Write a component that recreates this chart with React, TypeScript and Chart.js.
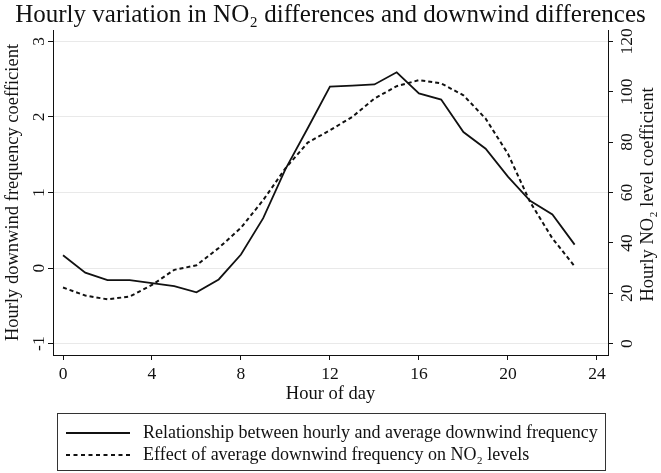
import React, { useEffect, useRef } from "react";
import { Chart, registerables } from "chart.js";

Chart.register(...registerables);

const HOURS = [0, 1, 2, 3, 4, 5, 6, 7, 8, 9, 10, 11, 12, 13, 14, 15, 16, 17, 18, 19, 20, 21, 22, 23];
const DOWNWIND_COEF = [0.17, -0.06, -0.16, -0.16, -0.2, -0.24, -0.32, -0.15, 0.18, 0.66, 1.31, 1.85, 2.4, 2.415, 2.43, 2.59, 2.31, 2.23, 1.8, 1.58, 1.21, 0.89, 0.71, 0.31];
const NO2_COEF = [22.3, 19.1, 17.6, 18.7, 23.3, 29.3, 31.1, 38.0, 46.0, 57.0, 69.6, 79.8, 84.7, 90.0, 97.3, 102.2, 104.6, 103.3, 98.6, 89.3, 75.4, 56.2, 41.8, 30.7];
const X_TICKS = [0, 4, 8, 12, 16, 20, 24];
const LEFT_TICKS = [-1, 0, 1, 2, 3];
const RIGHT_TICKS = [0, 20, 40, 60, 80, 100, 120];

const TITLE = "Hourly variation in NO₂ differences and downwind differences";
const X_TITLE = "Hour of day";
const LEFT_TITLE = "Hourly downwind frequency coefficient";
const RIGHT_TITLE = "Hourly NO₂ level coefficient";
const SERIES_LABELS = [
  "Relationship between hourly and average downwind frequency",
  "Effect of average downwind frequency on NO₂ levels",
];

const FONT = '"Liberation Serif", "Times New Roman", serif';
const INK = "#111";

export default function App() {
  const ref = useRef<HTMLCanvasElement | null>(null);

  useEffect(() => {
    document.body.style.margin = "0";
    const canvas = ref.current;
    if (!canvas) return;

    const extras = {
      id: "extras",
      afterDraw(chart: any) {
        const ctx = chart.ctx;
        const area = chart.chartArea;
        ctx.save();
        // right axis title
        ctx.fillStyle = INK;
        ctx.font = `18.5px ${FONT}`;
        ctx.textAlign = "center";
        ctx.textBaseline = "middle";
        ctx.translate(648, (area.top + area.bottom) / 2 + 2);
        ctx.rotate(-Math.PI / 2);
        ctx.fillText(RIGHT_TITLE, 0, 0);
        ctx.restore();

        // legend
        ctx.save();
        ctx.strokeStyle = "#333";
        ctx.lineWidth = 1;
        ctx.strokeRect(57.5, 413.5, 548, 57);
        const rows = [433, 455];
        rows.forEach((y, i) => {
          ctx.beginPath();
          ctx.strokeStyle = INK;
          ctx.lineWidth = i === 0 ? 1.8 : 2;
          ctx.setLineDash(i === 0 ? [] : [4, 3.5]);
          ctx.moveTo(66, y);
          ctx.lineTo(130, y);
          ctx.stroke();
          ctx.setLineDash([]);
          ctx.fillStyle = INK;
          ctx.font = `18px ${FONT}`;
          ctx.textAlign = "left";
          ctx.textBaseline = "middle";
          ctx.fillText(SERIES_LABELS[i], 143, y);
        });
        ctx.restore();
      },
    };

    const chart = new Chart(canvas, {
      type: "line",
      data: {
        datasets: [
          {
            label: SERIES_LABELS[0],
            data: HOURS.map((h, i) => ({ x: h, y: DOWNWIND_COEF[i] })),
            yAxisID: "y",
            borderColor: INK,
            borderWidth: 1.8,
            pointRadius: 0,
            tension: 0,
            fill: false,
          },
          {
            label: SERIES_LABELS[1],
            data: HOURS.map((h, i) => ({ x: h, y: NO2_COEF[i] })),
            yAxisID: "y1",
            borderColor: INK,
            borderWidth: 2,
            borderDash: [4, 3],
            pointRadius: 0,
            tension: 0,
            fill: false,
          },
        ],
      },
      plugins: [extras],
      options: {
        animation: false,
        responsive: false,
        devicePixelRatio: 1,
        layout: { padding: { left: 0, right: 0, top: 0, bottom: 68 } },
        plugins: {
          legend: { display: false },
          tooltip: { enabled: false },
          title: {
            display: true,
            text: TITLE,
            color: INK,
            font: { family: FONT, size: 25, weight: "normal" },
            padding: { top: 0, bottom: 0 },
          },
        },
        scales: {
          x: {
            type: "linear",
            position: "bottom",
            min: -0.45,
            max: 24.5,
            afterBuildTicks: (s: any) => {
              s.ticks = X_TICKS.map((v) => ({ value: v }));
            },
            afterFit: (s: any) => {
              s.height = 50;
              s.paddingLeft = 0;
              s.paddingRight = 0;
            },
            ticks: {
              autoSkip: false,
              maxRotation: 0,
              padding: 4,
              color: INK,
              font: { family: FONT, size: 17.5 },
            },
            grid: { drawOnChartArea: false, drawTicks: true, tickLength: 5, color: INK, tickColor: INK },
            border: { display: true, color: INK, width: 1 },
            title: {
              display: true,
              text: X_TITLE,
              color: INK,
              font: { family: FONT, size: 18.5 },
              padding: { top: 0, bottom: 0 },
            },
          },
          y: {
            type: "linear",
            position: "left",
            min: -1.15,
            max: 3.15,
            afterBuildTicks: (s: any) => {
              s.ticks = LEFT_TICKS.map((v) => ({ value: v }));
            },
            afterFit: (s: any) => {
              s.width = 53;
              s.paddingTop = 0;
              s.paddingBottom = 0;
            },
            ticks: {
              autoSkip: false,
              minRotation: 90,
              maxRotation: 90,
              crossAlign: "center",
              padding: 1,
              color: INK,
              font: { family: FONT, size: 17.5 },
            },
            grid: { drawOnChartArea: true, color: "#e9e9e9", tickColor: INK, tickLength: 5 },
            border: { display: true, color: INK, width: 1 },
            title: {
              display: true,
              text: LEFT_TITLE,
              color: INK,
              font: { family: FONT, size: 18.5 },
              padding: { top: 2, bottom: 0 },
            },
          },
          y1: {
            type: "linear",
            position: "right",
            min: -4.5,
            max: 124.5,
            afterBuildTicks: (s: any) => {
              s.ticks = RIGHT_TICKS.map((v) => ({ value: v }));
            },
            afterFit: (s: any) => {
              s.width = 53;
              s.paddingTop = 0;
              s.paddingBottom = 0;
            },
            ticks: {
              autoSkip: false,
              minRotation: 90,
              maxRotation: 90,
              crossAlign: "center",
              padding: 1,
              color: INK,
              font: { family: FONT, size: 17.5 },
            },
            grid: { drawOnChartArea: false, color: INK, tickColor: INK, tickLength: 5 },
            border: { display: true, color: INK, width: 1 },
          },
        },
      } as any,
    });

    return () => chart.destroy();
  }, []);

  return (
    <div style={{ width: 661, height: 473 }}>
      <canvas ref={ref} width={661} height={473} style={{ display: "block" }} />
    </div>
  );
}
